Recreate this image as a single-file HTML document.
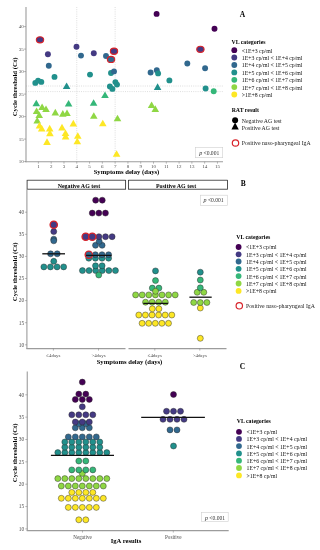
<!DOCTYPE html>
<html><head><meta charset="utf-8"><style>
html,body{margin:0;padding:0;background:#fff;}
svg{display:block;font-family:"Liberation Serif",serif;will-change:transform;}
</style></head><body>
<svg width="320" height="550" viewBox="0 0 320 550">
<rect width="320" height="550" fill="#fff"/>
<line x1="76.77" y1="7.0" x2="76.77" y2="161.7" stroke="#c8c8c8" stroke-width="0.6" stroke-dasharray="1,1.2"/>
<line x1="115.13999999999999" y1="7.0" x2="115.13999999999999" y2="161.7" stroke="#c8c8c8" stroke-width="0.6" stroke-dasharray="1,1.2"/>
<line x1="26.0" y1="86.0" x2="223.0" y2="86.0" stroke="#c8c8c8" stroke-width="0.6" stroke-dasharray="1,1.2"/>
<line x1="26.0" y1="91.6" x2="223.0" y2="91.6" stroke="#c8c8c8" stroke-width="0.6" stroke-dasharray="1,1.2"/>
<line x1="26.0" y1="7.0" x2="26.0" y2="162.2" stroke="#9c9c9c" stroke-width="1.1"/>
<line x1="25.5" y1="161.7" x2="223.0" y2="161.7" stroke="#9c9c9c" stroke-width="1.1"/>
<line x1="24.0" y1="161.6" x2="26.0" y2="161.6" stroke="#777" stroke-width="0.5"/>
<text x="23.8" y="163.35" font-size="5.0" text-anchor="end" fill="#4d4d4d">10</text>
<line x1="24.0" y1="139.1" x2="26.0" y2="139.1" stroke="#777" stroke-width="0.5"/>
<text x="23.8" y="140.85" font-size="5.0" text-anchor="end" fill="#4d4d4d">15</text>
<line x1="24.0" y1="116.6" x2="26.0" y2="116.6" stroke="#777" stroke-width="0.5"/>
<text x="23.8" y="118.35" font-size="5.0" text-anchor="end" fill="#4d4d4d">20</text>
<line x1="24.0" y1="94.1" x2="26.0" y2="94.1" stroke="#777" stroke-width="0.5"/>
<text x="23.8" y="95.85" font-size="5.0" text-anchor="end" fill="#4d4d4d">25</text>
<line x1="24.0" y1="71.6" x2="26.0" y2="71.6" stroke="#777" stroke-width="0.5"/>
<text x="23.8" y="73.35" font-size="5.0" text-anchor="end" fill="#4d4d4d">30</text>
<line x1="24.0" y1="49.099999999999994" x2="26.0" y2="49.099999999999994" stroke="#777" stroke-width="0.5"/>
<text x="23.8" y="50.849999999999994" font-size="5.0" text-anchor="end" fill="#4d4d4d">35</text>
<line x1="24.0" y1="26.599999999999994" x2="26.0" y2="26.599999999999994" stroke="#777" stroke-width="0.5"/>
<text x="23.8" y="28.349999999999994" font-size="5.0" text-anchor="end" fill="#4d4d4d">40</text>
<line x1="38.4" y1="161.7" x2="38.4" y2="163.7" stroke="#777" stroke-width="0.5"/>
<text x="38.4" y="167.6" font-size="5.0" text-anchor="middle" fill="#4d4d4d">1</text>
<line x1="51.19" y1="161.7" x2="51.19" y2="163.7" stroke="#777" stroke-width="0.5"/>
<text x="51.19" y="167.6" font-size="5.0" text-anchor="middle" fill="#4d4d4d">2</text>
<line x1="63.98" y1="161.7" x2="63.98" y2="163.7" stroke="#777" stroke-width="0.5"/>
<text x="63.98" y="167.6" font-size="5.0" text-anchor="middle" fill="#4d4d4d">3</text>
<line x1="76.77" y1="161.7" x2="76.77" y2="163.7" stroke="#777" stroke-width="0.5"/>
<text x="76.77" y="167.6" font-size="5.0" text-anchor="middle" fill="#4d4d4d">4</text>
<line x1="89.56" y1="161.7" x2="89.56" y2="163.7" stroke="#777" stroke-width="0.5"/>
<text x="89.56" y="167.6" font-size="5.0" text-anchor="middle" fill="#4d4d4d">5</text>
<line x1="102.35" y1="161.7" x2="102.35" y2="163.7" stroke="#777" stroke-width="0.5"/>
<text x="102.35" y="167.6" font-size="5.0" text-anchor="middle" fill="#4d4d4d">6</text>
<line x1="115.13999999999999" y1="161.7" x2="115.13999999999999" y2="163.7" stroke="#777" stroke-width="0.5"/>
<text x="115.13999999999999" y="167.6" font-size="5.0" text-anchor="middle" fill="#4d4d4d">7</text>
<line x1="127.93" y1="161.7" x2="127.93" y2="163.7" stroke="#777" stroke-width="0.5"/>
<text x="127.93" y="167.6" font-size="5.0" text-anchor="middle" fill="#4d4d4d">8</text>
<line x1="140.72" y1="161.7" x2="140.72" y2="163.7" stroke="#777" stroke-width="0.5"/>
<text x="140.72" y="167.6" font-size="5.0" text-anchor="middle" fill="#4d4d4d">9</text>
<line x1="153.51" y1="161.7" x2="153.51" y2="163.7" stroke="#777" stroke-width="0.5"/>
<text x="153.51" y="167.6" font-size="5.0" text-anchor="middle" fill="#4d4d4d">10</text>
<line x1="166.29999999999998" y1="161.7" x2="166.29999999999998" y2="163.7" stroke="#777" stroke-width="0.5"/>
<text x="166.29999999999998" y="167.6" font-size="5.0" text-anchor="middle" fill="#4d4d4d">11</text>
<line x1="179.09" y1="161.7" x2="179.09" y2="163.7" stroke="#777" stroke-width="0.5"/>
<text x="179.09" y="167.6" font-size="5.0" text-anchor="middle" fill="#4d4d4d">12</text>
<line x1="191.88" y1="161.7" x2="191.88" y2="163.7" stroke="#777" stroke-width="0.5"/>
<text x="191.88" y="167.6" font-size="5.0" text-anchor="middle" fill="#4d4d4d">13</text>
<line x1="204.67" y1="161.7" x2="204.67" y2="163.7" stroke="#777" stroke-width="0.5"/>
<text x="204.67" y="167.6" font-size="5.0" text-anchor="middle" fill="#4d4d4d">14</text>
<line x1="217.46" y1="161.7" x2="217.46" y2="163.7" stroke="#777" stroke-width="0.5"/>
<text x="217.46" y="167.6" font-size="5.0" text-anchor="middle" fill="#4d4d4d">15</text>
<polygon points="66.60,82.50 62.80,89.10 70.40,89.10" fill="#21908C"/>
<polygon points="157.60,83.30 153.80,89.90 161.40,89.90" fill="#21908C"/>
<polygon points="36.30,99.70 32.50,106.30 40.10,106.30" fill="#35B779"/>
<polygon points="68.60,100.00 64.80,106.60 72.40,106.60" fill="#35B779"/>
<polygon points="105.00,91.50 101.20,98.10 108.80,98.10" fill="#35B779"/>
<polygon points="93.60,99.20 89.80,105.80 97.40,105.80" fill="#35B779"/>
<polygon points="42.10,103.50 38.30,110.10 45.90,110.10" fill="#8FD744"/>
<polygon points="46.00,105.50 42.20,112.10 49.80,112.10" fill="#8FD744"/>
<polygon points="36.60,107.40 32.80,114.00 40.40,114.00" fill="#8FD744"/>
<polygon points="55.30,108.80 51.50,115.40 59.10,115.40" fill="#8FD744"/>
<polygon points="62.80,110.10 59.00,116.70 66.60,116.70" fill="#8FD744"/>
<polygon points="67.00,109.40 63.20,116.00 70.80,116.00" fill="#8FD744"/>
<polygon points="39.20,111.40 35.40,118.00 43.00,118.00" fill="#8FD744"/>
<polygon points="37.20,117.00 33.40,123.60 41.00,123.60" fill="#8FD744"/>
<polygon points="93.80,112.20 90.00,118.80 97.60,118.80" fill="#8FD744"/>
<polygon points="117.50,114.70 113.70,121.30 121.30,121.30" fill="#8FD744"/>
<polygon points="151.60,101.50 147.80,108.10 155.40,108.10" fill="#8FD744"/>
<polygon points="155.30,105.30 151.50,111.90 159.10,111.90" fill="#8FD744"/>
<polygon points="39.50,122.00 35.70,128.60 43.30,128.60" fill="#FDE725"/>
<polygon points="41.70,124.80 37.90,131.40 45.50,131.40" fill="#FDE725"/>
<polygon points="49.70,124.80 45.90,131.40 53.50,131.40" fill="#FDE725"/>
<polygon points="49.90,129.60 46.10,136.20 53.70,136.20" fill="#FDE725"/>
<polygon points="47.00,138.30 43.20,144.90 50.80,144.90" fill="#FDE725"/>
<polygon points="62.00,123.80 58.20,130.40 65.80,130.40" fill="#FDE725"/>
<polygon points="65.50,129.40 61.70,136.00 69.30,136.00" fill="#FDE725"/>
<polygon points="65.60,132.80 61.80,139.40 69.40,139.40" fill="#FDE725"/>
<polygon points="73.30,119.80 69.50,126.40 77.10,126.40" fill="#FDE725"/>
<polygon points="77.80,132.20 74.00,138.80 81.60,138.80" fill="#FDE725"/>
<polygon points="77.30,137.70 73.50,144.30 81.10,144.30" fill="#FDE725"/>
<polygon points="102.80,119.70 99.00,126.30 106.60,126.30" fill="#FDE725"/>
<polygon points="116.60,150.20 112.80,156.80 120.40,156.80" fill="#FDE725"/>
<circle cx="47.9" cy="54.3" r="2.95" fill="#443A83"/>
<circle cx="48.8" cy="65.8" r="2.95" fill="#31688E"/>
<circle cx="35.3" cy="82.9" r="2.95" fill="#21908C"/>
<circle cx="38.1" cy="80.6" r="2.95" fill="#21908C"/>
<circle cx="41.3" cy="81.9" r="2.95" fill="#21908C"/>
<circle cx="54.5" cy="76.9" r="2.95" fill="#21908C"/>
<circle cx="76.5" cy="46.7" r="2.95" fill="#443A83"/>
<circle cx="81.0" cy="55.6" r="2.95" fill="#31688E"/>
<circle cx="93.8" cy="53.2" r="2.95" fill="#443A83"/>
<circle cx="106.0" cy="56.0" r="2.95" fill="#31688E"/>
<circle cx="90.0" cy="74.6" r="2.95" fill="#21908C"/>
<circle cx="111.0" cy="73.0" r="2.95" fill="#21908C"/>
<circle cx="114.0" cy="71.4" r="2.95" fill="#31688E"/>
<circle cx="115.4" cy="82.1" r="2.95" fill="#21908C"/>
<circle cx="117.0" cy="84.6" r="2.95" fill="#21908C"/>
<circle cx="109.9" cy="86.4" r="2.95" fill="#21908C"/>
<circle cx="112.4" cy="88.9" r="2.95" fill="#21908C"/>
<circle cx="156.6" cy="13.9" r="2.95" fill="#440154"/>
<circle cx="214.5" cy="28.7" r="2.95" fill="#440154"/>
<circle cx="187.3" cy="63.5" r="2.95" fill="#31688E"/>
<circle cx="150.6" cy="72.5" r="2.95" fill="#31688E"/>
<circle cx="156.8" cy="70.3" r="2.95" fill="#31688E"/>
<circle cx="158.1" cy="73.4" r="2.95" fill="#21908C"/>
<circle cx="169.4" cy="80.4" r="2.95" fill="#21908C"/>
<circle cx="205.1" cy="68.2" r="2.95" fill="#31688E"/>
<circle cx="205.6" cy="88.5" r="2.95" fill="#21908C"/>
<circle cx="213.7" cy="91.3" r="2.95" fill="#35B779"/>
<ellipse cx="40.0" cy="39.8" rx="3.65" ry="3.1" fill="#443A83" stroke="#D8232A" stroke-width="1.15"/>
<ellipse cx="114.0" cy="51.2" rx="3.65" ry="3.1" fill="#443A83" stroke="#D8232A" stroke-width="1.15"/>
<ellipse cx="111.0" cy="59.4" rx="3.65" ry="3.1" fill="#31688E" stroke="#D8232A" stroke-width="1.15"/>
<ellipse cx="200.4" cy="49.3" rx="3.65" ry="3.1" fill="#443A83" stroke="#D8232A" stroke-width="1.15"/>
<rect x="195.6" y="147.5" width="27.1" height="10.2" fill="#fff" stroke="#cfcfcf" stroke-width="0.6"/>
<text x="209.2" y="155.0" font-size="5.6" text-anchor="middle" fill="#333"><tspan font-style="italic" font-size="6.0">p</tspan> &lt;0.001</text>
<text x="126.5" y="173.9" font-size="6.65" text-anchor="middle" fill="#000" font-weight="bold">Symptoms delay (days)</text>
<text x="0" y="0" font-size="6.8" font-weight="bold" text-anchor="middle" transform="translate(16.9,86.9) rotate(-90)">Cycle threshold (Ct)</text>
<text x="242.4" y="17.0" font-size="7.5" text-anchor="middle" fill="#000" font-weight="bold">A</text>
<text x="231.6" y="43.8" font-size="5.8" text-anchor="start" fill="#000" font-weight="bold">VL categories</text>
<circle cx="234.3" cy="50.2" r="2.9" fill="#440154"/>
<text x="241.8" y="52.6" font-size="5.8" text-anchor="start" fill="#111">&lt;1E+3 cp/ml</text>
<circle cx="234.3" cy="57.5" r="2.9" fill="#443A83"/>
<text x="241.8" y="59.9" font-size="5.8" text-anchor="start" fill="#111">1E+3 cp/ml &lt; 1E+4 cp/ml</text>
<circle cx="234.3" cy="65.0" r="2.9" fill="#31688E"/>
<text x="241.8" y="67.4" font-size="5.8" text-anchor="start" fill="#111">1E+4 cp/ml &lt; 1E+5 cp/ml</text>
<circle cx="234.3" cy="72.4" r="2.9" fill="#21908C"/>
<text x="241.8" y="74.80000000000001" font-size="5.8" text-anchor="start" fill="#111">1E+5 cp/ml &lt; 1E+6 cp/ml</text>
<circle cx="234.3" cy="79.8" r="2.9" fill="#35B779"/>
<text x="241.8" y="82.2" font-size="5.8" text-anchor="start" fill="#111">1E+6 cp/ml &lt; 1E+7 cp/ml</text>
<circle cx="234.3" cy="87.1" r="2.9" fill="#8FD744"/>
<text x="241.8" y="89.5" font-size="5.8" text-anchor="start" fill="#111">1E+7 cp/ml &lt; 1E+8 cp/ml</text>
<circle cx="234.3" cy="94.5" r="2.9" fill="#FDE725"/>
<text x="241.8" y="96.9" font-size="5.8" text-anchor="start" fill="#111">&gt;1E+8 cp/ml</text>
<text x="231.7" y="112.0" font-size="5.8" text-anchor="start" fill="#000" font-weight="bold">RAT result</text>
<circle cx="235.1" cy="120.2" r="3.0" fill="#000"/>
<polygon points="235.1,122.6 231.4,129.4 238.8,129.4" fill="#000"/>
<text x="241.8" y="122.6" font-size="5.8" text-anchor="start" fill="#222">Negative AG test</text>
<text x="241.8" y="129.9" font-size="5.8" text-anchor="start" fill="#222">Positive AG test</text>
<circle cx="235.5" cy="143.0" r="3.2" fill="none" stroke="#D8232A" stroke-width="1.2"/>
<text x="241.8" y="144.9" font-size="5.8" text-anchor="start" fill="#222">Positive naso-pharyngeal IgA</text>
<rect x="27.1" y="180.3" width="98.5" height="8.9" fill="#fff" stroke="#333" stroke-width="0.85"/>
<line x1="27.6" y1="180.3" x2="125.1" y2="180.3" stroke="#8a8a8a" stroke-width="0.85"/>
<text x="78.9" y="188.0" font-size="5.95" text-anchor="middle" fill="#000" font-weight="bold">Negative AG test</text>
<rect x="128.5" y="180.3" width="99.0" height="8.9" fill="#fff" stroke="#333" stroke-width="0.85"/>
<line x1="129.0" y1="180.3" x2="227.0" y2="180.3" stroke="#8a8a8a" stroke-width="0.85"/>
<text x="176.0" y="188.0" font-size="5.95" text-anchor="middle" fill="#000" font-weight="bold">Positive AG test</text>
<line x1="26.9" y1="189.4" x2="26.9" y2="349.1" stroke="#9c9c9c" stroke-width="1.1"/>
<line x1="26.4" y1="348.6" x2="125.5" y2="348.6" stroke="#9c9c9c" stroke-width="1.1"/>
<line x1="128.5" y1="348.6" x2="226.5" y2="348.6" stroke="#9c9c9c" stroke-width="1.1"/>
<line x1="24.9" y1="344.8" x2="26.9" y2="344.8" stroke="#777" stroke-width="0.5"/>
<text x="24.1" y="346.65000000000003" font-size="5.4" text-anchor="end" fill="#4d4d4d">10</text>
<line x1="24.9" y1="322.7" x2="26.9" y2="322.7" stroke="#777" stroke-width="0.5"/>
<text x="24.1" y="324.55" font-size="5.4" text-anchor="end" fill="#4d4d4d">15</text>
<line x1="24.9" y1="300.6" x2="26.9" y2="300.6" stroke="#777" stroke-width="0.5"/>
<text x="24.1" y="302.45000000000005" font-size="5.4" text-anchor="end" fill="#4d4d4d">20</text>
<line x1="24.9" y1="278.5" x2="26.9" y2="278.5" stroke="#777" stroke-width="0.5"/>
<text x="24.1" y="280.35" font-size="5.4" text-anchor="end" fill="#4d4d4d">25</text>
<line x1="24.9" y1="256.4" x2="26.9" y2="256.4" stroke="#777" stroke-width="0.5"/>
<text x="24.1" y="258.25" font-size="5.4" text-anchor="end" fill="#4d4d4d">30</text>
<line x1="24.9" y1="234.3" x2="26.9" y2="234.3" stroke="#777" stroke-width="0.5"/>
<text x="24.1" y="236.15" font-size="5.4" text-anchor="end" fill="#4d4d4d">35</text>
<line x1="24.9" y1="212.20000000000002" x2="26.9" y2="212.20000000000002" stroke="#777" stroke-width="0.5"/>
<text x="24.1" y="214.05" font-size="5.4" text-anchor="end" fill="#4d4d4d">40</text>
<line x1="53.4" y1="348.6" x2="53.4" y2="350.6" stroke="#777" stroke-width="0.5"/>
<text x="53.4" y="356.6" font-size="4.9" text-anchor="middle" fill="#4d4d4d">≤4days</text>
<line x1="98.5" y1="348.6" x2="98.5" y2="350.6" stroke="#777" stroke-width="0.5"/>
<text x="98.5" y="356.6" font-size="4.9" text-anchor="middle" fill="#4d4d4d">&gt;4days</text>
<line x1="154.8" y1="348.6" x2="154.8" y2="350.6" stroke="#777" stroke-width="0.5"/>
<text x="154.8" y="356.6" font-size="4.9" text-anchor="middle" fill="#4d4d4d">≤4days</text>
<line x1="199.8" y1="348.6" x2="199.8" y2="350.6" stroke="#777" stroke-width="0.5"/>
<text x="199.8" y="356.6" font-size="4.9" text-anchor="middle" fill="#4d4d4d">&gt;4days</text>
<text x="129.5" y="364.3" font-size="6.65" text-anchor="middle" fill="#000" font-weight="bold">Symptoms delay (days)</text>
<text x="0" y="0" font-size="6.8" font-weight="bold" text-anchor="middle" transform="translate(16.9,271.8) rotate(-90)">Cycle threshold (Ct)</text>
<text x="243.2" y="185.9" font-size="7.5" text-anchor="middle" fill="#000" font-weight="bold">B</text>
<rect x="200.3" y="195.2" width="27.3" height="10.2" fill="#fff" stroke="#cfcfcf" stroke-width="0.6"/>
<text x="213.6" y="202.4" font-size="5.6" text-anchor="middle" fill="#333"><tspan font-style="italic" font-size="6.0">p</tspan> &lt;0.001</text>
<circle cx="53.75" cy="231.6" r="3.0" fill="#443A83" stroke="#2b2b2b" stroke-width="0.45"/>
<circle cx="53.75" cy="239.2" r="3.0" fill="#31688E" stroke="#2b2b2b" stroke-width="0.45"/>
<circle cx="53.75" cy="240.8" r="3.0" fill="#31688E" stroke="#2b2b2b" stroke-width="0.45"/>
<circle cx="43.85" cy="266.9" r="3.0" fill="#21908C" stroke="#2b2b2b" stroke-width="0.45"/>
<circle cx="50.45" cy="266.9" r="3.0" fill="#21908C" stroke="#2b2b2b" stroke-width="0.45"/>
<circle cx="57.05" cy="266.9" r="3.0" fill="#21908C" stroke="#2b2b2b" stroke-width="0.45"/>
<circle cx="63.65" cy="266.9" r="3.0" fill="#21908C" stroke="#2b2b2b" stroke-width="0.45"/>
<circle cx="53.75" cy="261.3" r="3.0" fill="#21908C" stroke="#2b2b2b" stroke-width="0.45"/>
<circle cx="50.6" cy="253.8" r="3.0" fill="#31688E" stroke="#2b2b2b" stroke-width="0.45"/>
<circle cx="57.199999999999996" cy="253.8" r="3.0" fill="#31688E" stroke="#2b2b2b" stroke-width="0.45"/>
<circle cx="53.75" cy="224.75" r="3.65" fill="#443A83" stroke="#D8232A" stroke-width="1.35"/>
<line x1="42.3" y1="253.8" x2="65.0" y2="253.8" stroke="#111" stroke-width="1.3"/>
<circle cx="95.65" cy="200.2" r="3.0" fill="#440154" stroke="#2b2b2b" stroke-width="0.45"/>
<circle cx="102.25" cy="200.2" r="3.0" fill="#440154" stroke="#2b2b2b" stroke-width="0.45"/>
<circle cx="92.25" cy="213.1" r="3.0" fill="#440154" stroke="#2b2b2b" stroke-width="0.45"/>
<circle cx="98.85" cy="213.1" r="3.0" fill="#440154" stroke="#2b2b2b" stroke-width="0.45"/>
<circle cx="105.44999999999999" cy="213.1" r="3.0" fill="#440154" stroke="#2b2b2b" stroke-width="0.45"/>
<circle cx="82.45" cy="270.6" r="3.0" fill="#21908C" stroke="#2b2b2b" stroke-width="0.45"/>
<circle cx="89.05000000000001" cy="270.6" r="3.0" fill="#21908C" stroke="#2b2b2b" stroke-width="0.45"/>
<circle cx="95.65" cy="270.6" r="3.0" fill="#21908C" stroke="#2b2b2b" stroke-width="0.45"/>
<circle cx="102.25" cy="270.6" r="3.0" fill="#21908C" stroke="#2b2b2b" stroke-width="0.45"/>
<circle cx="108.85" cy="270.6" r="3.0" fill="#21908C" stroke="#2b2b2b" stroke-width="0.45"/>
<circle cx="115.45" cy="270.6" r="3.0" fill="#21908C" stroke="#2b2b2b" stroke-width="0.45"/>
<circle cx="98.75" cy="275.0" r="3.0" fill="#35B779" stroke="#2b2b2b" stroke-width="0.45"/>
<circle cx="95.5" cy="265.8" r="3.0" fill="#21908C" stroke="#2b2b2b" stroke-width="0.45"/>
<circle cx="102.1" cy="265.8" r="3.0" fill="#21908C" stroke="#2b2b2b" stroke-width="0.45"/>
<circle cx="88.80000000000001" cy="258.2" r="3.0" fill="#21908C" stroke="#2b2b2b" stroke-width="0.45"/>
<circle cx="95.4" cy="258.2" r="3.0" fill="#21908C" stroke="#2b2b2b" stroke-width="0.45"/>
<circle cx="102.0" cy="258.2" r="3.0" fill="#21908C" stroke="#2b2b2b" stroke-width="0.45"/>
<circle cx="108.6" cy="258.2" r="3.0" fill="#21908C" stroke="#2b2b2b" stroke-width="0.45"/>
<circle cx="95.4" cy="254.7" r="3.0" fill="#31688E" stroke="#2b2b2b" stroke-width="0.45"/>
<circle cx="102.0" cy="254.7" r="3.0" fill="#31688E" stroke="#2b2b2b" stroke-width="0.45"/>
<circle cx="108.6" cy="254.7" r="3.0" fill="#31688E" stroke="#2b2b2b" stroke-width="0.45"/>
<circle cx="95.5" cy="245.3" r="3.0" fill="#31688E" stroke="#2b2b2b" stroke-width="0.45"/>
<circle cx="102.1" cy="245.3" r="3.0" fill="#31688E" stroke="#2b2b2b" stroke-width="0.45"/>
<circle cx="99.2" cy="241.4" r="3.0" fill="#31688E" stroke="#2b2b2b" stroke-width="0.45"/>
<circle cx="98.9" cy="236.7" r="3.0" fill="#443A83" stroke="#2b2b2b" stroke-width="0.45"/>
<circle cx="105.5" cy="236.7" r="3.0" fill="#443A83" stroke="#2b2b2b" stroke-width="0.45"/>
<circle cx="112.10000000000001" cy="236.7" r="3.0" fill="#443A83" stroke="#2b2b2b" stroke-width="0.45"/>
<circle cx="85.7" cy="236.7" r="3.65" fill="#443A83" stroke="#D8232A" stroke-width="1.35"/>
<circle cx="92.30000000000001" cy="236.7" r="3.65" fill="#443A83" stroke="#D8232A" stroke-width="1.35"/>
<circle cx="88.80000000000001" cy="254.7" r="3.65" fill="#31688E" stroke="#D8232A" stroke-width="1.35"/>
<line x1="86.0" y1="255.4" x2="111.5" y2="255.4" stroke="#111" stroke-width="1.3"/>
<circle cx="142.10000000000002" cy="323.3" r="3.0" fill="#FDE725" stroke="#2b2b2b" stroke-width="0.45"/>
<circle cx="148.70000000000002" cy="323.3" r="3.0" fill="#FDE725" stroke="#2b2b2b" stroke-width="0.45"/>
<circle cx="155.3" cy="323.3" r="3.0" fill="#FDE725" stroke="#2b2b2b" stroke-width="0.45"/>
<circle cx="161.9" cy="323.3" r="3.0" fill="#FDE725" stroke="#2b2b2b" stroke-width="0.45"/>
<circle cx="168.5" cy="323.3" r="3.0" fill="#FDE725" stroke="#2b2b2b" stroke-width="0.45"/>
<circle cx="138.8" cy="315.0" r="3.0" fill="#FDE725" stroke="#2b2b2b" stroke-width="0.45"/>
<circle cx="145.4" cy="315.0" r="3.0" fill="#FDE725" stroke="#2b2b2b" stroke-width="0.45"/>
<circle cx="152.0" cy="315.0" r="3.0" fill="#FDE725" stroke="#2b2b2b" stroke-width="0.45"/>
<circle cx="158.60000000000002" cy="315.0" r="3.0" fill="#FDE725" stroke="#2b2b2b" stroke-width="0.45"/>
<circle cx="165.20000000000002" cy="315.0" r="3.0" fill="#FDE725" stroke="#2b2b2b" stroke-width="0.45"/>
<circle cx="171.8" cy="315.0" r="3.0" fill="#FDE725" stroke="#2b2b2b" stroke-width="0.45"/>
<circle cx="152.29999999999998" cy="308.8" r="3.0" fill="#FDE725" stroke="#2b2b2b" stroke-width="0.45"/>
<circle cx="158.9" cy="308.8" r="3.0" fill="#FDE725" stroke="#2b2b2b" stroke-width="0.45"/>
<circle cx="145.5" cy="302.2" r="3.0" fill="#8FD744" stroke="#2b2b2b" stroke-width="0.45"/>
<circle cx="152.1" cy="302.2" r="3.0" fill="#8FD744" stroke="#2b2b2b" stroke-width="0.45"/>
<circle cx="158.70000000000002" cy="302.2" r="3.0" fill="#8FD744" stroke="#2b2b2b" stroke-width="0.45"/>
<circle cx="165.3" cy="302.2" r="3.0" fill="#8FD744" stroke="#2b2b2b" stroke-width="0.45"/>
<line x1="143.3" y1="303.4" x2="168.2" y2="303.4" stroke="#111" stroke-width="1.3"/>
<circle cx="135.60000000000002" cy="294.9" r="3.0" fill="#8FD744" stroke="#2b2b2b" stroke-width="0.45"/>
<circle cx="142.20000000000002" cy="294.9" r="3.0" fill="#8FD744" stroke="#2b2b2b" stroke-width="0.45"/>
<circle cx="148.8" cy="294.9" r="3.0" fill="#8FD744" stroke="#2b2b2b" stroke-width="0.45"/>
<circle cx="155.4" cy="294.9" r="3.0" fill="#8FD744" stroke="#2b2b2b" stroke-width="0.45"/>
<circle cx="162.0" cy="294.9" r="3.0" fill="#8FD744" stroke="#2b2b2b" stroke-width="0.45"/>
<circle cx="168.6" cy="294.9" r="3.0" fill="#8FD744" stroke="#2b2b2b" stroke-width="0.45"/>
<circle cx="175.2" cy="294.9" r="3.0" fill="#8FD744" stroke="#2b2b2b" stroke-width="0.45"/>
<circle cx="152.29999999999998" cy="288.1" r="3.0" fill="#35B779" stroke="#2b2b2b" stroke-width="0.45"/>
<circle cx="158.9" cy="288.1" r="3.0" fill="#35B779" stroke="#2b2b2b" stroke-width="0.45"/>
<circle cx="155.5" cy="291.3" r="3.0" fill="#8FD744" stroke="#2b2b2b" stroke-width="0.45"/>
<circle cx="155.5" cy="280.6" r="3.0" fill="#35B779" stroke="#2b2b2b" stroke-width="0.45"/>
<circle cx="155.5" cy="270.9" r="3.0" fill="#21908C" stroke="#2b2b2b" stroke-width="0.45"/>
<circle cx="200.3" cy="338.3" r="3.0" fill="#FDE725" stroke="#2b2b2b" stroke-width="0.45"/>
<circle cx="200.3" cy="308.0" r="3.0" fill="#FDE725" stroke="#2b2b2b" stroke-width="0.45"/>
<circle cx="193.70000000000002" cy="302.5" r="3.0" fill="#8FD744" stroke="#2b2b2b" stroke-width="0.45"/>
<circle cx="200.3" cy="302.5" r="3.0" fill="#8FD744" stroke="#2b2b2b" stroke-width="0.45"/>
<circle cx="206.9" cy="302.5" r="3.0" fill="#8FD744" stroke="#2b2b2b" stroke-width="0.45"/>
<line x1="189.4" y1="297.2" x2="211.7" y2="297.2" stroke="#111" stroke-width="1.3"/>
<circle cx="197.2" cy="292.3" r="3.0" fill="#8FD744" stroke="#2b2b2b" stroke-width="0.45"/>
<circle cx="203.8" cy="292.3" r="3.0" fill="#8FD744" stroke="#2b2b2b" stroke-width="0.45"/>
<circle cx="200.3" cy="287.8" r="3.0" fill="#35B779" stroke="#2b2b2b" stroke-width="0.45"/>
<circle cx="200.3" cy="280.0" r="3.0" fill="#35B779" stroke="#2b2b2b" stroke-width="0.45"/>
<circle cx="200.3" cy="272.2" r="3.0" fill="#21908C" stroke="#2b2b2b" stroke-width="0.45"/>
<text x="236.3" y="238.8" font-size="5.8" text-anchor="start" fill="#000" font-weight="bold">VL categories</text>
<circle cx="238.6" cy="247.0" r="2.9" fill="#440154"/>
<text x="246.0" y="249.4" font-size="5.8" text-anchor="start" fill="#111">&lt;1E+3 cp/ml</text>
<circle cx="238.6" cy="254.3" r="2.9" fill="#443A83"/>
<text x="246.0" y="256.7" font-size="5.8" text-anchor="start" fill="#111">1E+3 cp/ml &lt; 1E+4 cp/ml</text>
<circle cx="238.6" cy="261.5" r="2.9" fill="#31688E"/>
<text x="246.0" y="263.9" font-size="5.8" text-anchor="start" fill="#111">1E+4 cp/ml &lt; 1E+5 cp/ml</text>
<circle cx="238.6" cy="268.8" r="2.9" fill="#21908C"/>
<text x="246.0" y="271.2" font-size="5.8" text-anchor="start" fill="#111">1E+5 cp/ml &lt; 1E+6 cp/ml</text>
<circle cx="238.6" cy="276.1" r="2.9" fill="#35B779"/>
<text x="246.0" y="278.5" font-size="5.8" text-anchor="start" fill="#111">1E+6 cp/ml &lt; 1E+7 cp/ml</text>
<circle cx="238.6" cy="283.5" r="2.9" fill="#8FD744"/>
<text x="246.0" y="285.9" font-size="5.8" text-anchor="start" fill="#111">1E+7 cp/ml &lt; 1E+8 cp/ml</text>
<circle cx="238.6" cy="290.9" r="2.9" fill="#FDE725"/>
<text x="246.0" y="293.29999999999995" font-size="5.8" text-anchor="start" fill="#111">&gt;1E+8 cp/ml</text>
<circle cx="239.3" cy="305.8" r="3.2" fill="none" stroke="#D8232A" stroke-width="1.2"/>
<text x="246.0" y="307.7" font-size="5.8" text-anchor="start" fill="#222">Positive naso-pharyngeal IgA</text>
<line x1="27.25" y1="371.5" x2="27.25" y2="531.1" stroke="#9c9c9c" stroke-width="1.1"/>
<line x1="26.7" y1="530.6" x2="228.7" y2="530.6" stroke="#9c9c9c" stroke-width="1.1"/>
<line x1="25.25" y1="528.9" x2="27.25" y2="528.9" stroke="#777" stroke-width="0.5"/>
<text x="24.2" y="530.75" font-size="5.4" text-anchor="end" fill="#4d4d4d">10</text>
<line x1="25.25" y1="506.54999999999995" x2="27.25" y2="506.54999999999995" stroke="#777" stroke-width="0.5"/>
<text x="24.2" y="508.4" font-size="5.4" text-anchor="end" fill="#4d4d4d">15</text>
<line x1="25.25" y1="484.2" x2="27.25" y2="484.2" stroke="#777" stroke-width="0.5"/>
<text x="24.2" y="486.05" font-size="5.4" text-anchor="end" fill="#4d4d4d">20</text>
<line x1="25.25" y1="461.84999999999997" x2="27.25" y2="461.84999999999997" stroke="#777" stroke-width="0.5"/>
<text x="24.2" y="463.7" font-size="5.4" text-anchor="end" fill="#4d4d4d">25</text>
<line x1="25.25" y1="439.5" x2="27.25" y2="439.5" stroke="#777" stroke-width="0.5"/>
<text x="24.2" y="441.35" font-size="5.4" text-anchor="end" fill="#4d4d4d">30</text>
<line x1="25.25" y1="417.15" x2="27.25" y2="417.15" stroke="#777" stroke-width="0.5"/>
<text x="24.2" y="419.0" font-size="5.4" text-anchor="end" fill="#4d4d4d">35</text>
<line x1="25.25" y1="394.79999999999995" x2="27.25" y2="394.79999999999995" stroke="#777" stroke-width="0.5"/>
<text x="24.2" y="396.65" font-size="5.4" text-anchor="end" fill="#4d4d4d">40</text>
<line x1="82.5" y1="530.6" x2="82.5" y2="532.6" stroke="#777" stroke-width="0.5"/>
<text x="82.5" y="538.9" font-size="5.15" text-anchor="middle" fill="#4d4d4d">Negative</text>
<line x1="173.3" y1="530.6" x2="173.3" y2="532.6" stroke="#777" stroke-width="0.5"/>
<text x="173.3" y="538.9" font-size="5.15" text-anchor="middle" fill="#4d4d4d">Positive</text>
<text x="126.0" y="543.2" font-size="6.65" text-anchor="middle" fill="#000" font-weight="bold">IgA results</text>
<text x="0" y="0" font-size="6.8" font-weight="bold" text-anchor="middle" transform="translate(16.9,452.8) rotate(-90)">Cycle threshold (Ct)</text>
<text x="242.4" y="369.2" font-size="7.5" text-anchor="middle" fill="#000" font-weight="bold">C</text>
<rect x="201.4" y="512.6" width="26.8" height="9.1" fill="#fff" stroke="#cfcfcf" stroke-width="0.6"/>
<text x="215.0" y="519.6" font-size="5.6" text-anchor="middle" fill="#333"><tspan font-style="italic" font-size="6.0">p</tspan> &lt;0.001</text>
<circle cx="78.8" cy="519.8" r="3.0" fill="#FDE725" stroke="#2b2b2b" stroke-width="0.45"/>
<circle cx="85.8" cy="519.8" r="3.0" fill="#FDE725" stroke="#2b2b2b" stroke-width="0.45"/>
<circle cx="68.3" cy="507.4" r="3.0" fill="#FDE725" stroke="#2b2b2b" stroke-width="0.45"/>
<circle cx="75.3" cy="507.4" r="3.0" fill="#FDE725" stroke="#2b2b2b" stroke-width="0.45"/>
<circle cx="82.3" cy="507.4" r="3.0" fill="#FDE725" stroke="#2b2b2b" stroke-width="0.45"/>
<circle cx="89.3" cy="507.4" r="3.0" fill="#FDE725" stroke="#2b2b2b" stroke-width="0.45"/>
<circle cx="96.3" cy="507.4" r="3.0" fill="#FDE725" stroke="#2b2b2b" stroke-width="0.45"/>
<circle cx="61.3" cy="498.3" r="3.0" fill="#FDE725" stroke="#2b2b2b" stroke-width="0.45"/>
<circle cx="68.3" cy="498.3" r="3.0" fill="#FDE725" stroke="#2b2b2b" stroke-width="0.45"/>
<circle cx="75.3" cy="498.3" r="3.0" fill="#FDE725" stroke="#2b2b2b" stroke-width="0.45"/>
<circle cx="82.3" cy="498.3" r="3.0" fill="#FDE725" stroke="#2b2b2b" stroke-width="0.45"/>
<circle cx="89.3" cy="498.3" r="3.0" fill="#FDE725" stroke="#2b2b2b" stroke-width="0.45"/>
<circle cx="96.3" cy="498.3" r="3.0" fill="#FDE725" stroke="#2b2b2b" stroke-width="0.45"/>
<circle cx="103.3" cy="498.3" r="3.0" fill="#FDE725" stroke="#2b2b2b" stroke-width="0.45"/>
<circle cx="71.8" cy="492.4" r="3.0" fill="#FDE725" stroke="#2b2b2b" stroke-width="0.45"/>
<circle cx="78.8" cy="492.4" r="3.0" fill="#FDE725" stroke="#2b2b2b" stroke-width="0.45"/>
<circle cx="85.8" cy="492.4" r="3.0" fill="#FDE725" stroke="#2b2b2b" stroke-width="0.45"/>
<circle cx="92.8" cy="492.4" r="3.0" fill="#FDE725" stroke="#2b2b2b" stroke-width="0.45"/>
<circle cx="61.3" cy="486.0" r="3.0" fill="#8FD744" stroke="#2b2b2b" stroke-width="0.45"/>
<circle cx="68.3" cy="486.0" r="3.0" fill="#8FD744" stroke="#2b2b2b" stroke-width="0.45"/>
<circle cx="75.3" cy="486.0" r="3.0" fill="#8FD744" stroke="#2b2b2b" stroke-width="0.45"/>
<circle cx="82.3" cy="486.0" r="3.0" fill="#8FD744" stroke="#2b2b2b" stroke-width="0.45"/>
<circle cx="89.3" cy="486.0" r="3.0" fill="#8FD744" stroke="#2b2b2b" stroke-width="0.45"/>
<circle cx="96.3" cy="486.0" r="3.0" fill="#8FD744" stroke="#2b2b2b" stroke-width="0.45"/>
<circle cx="103.3" cy="486.0" r="3.0" fill="#8FD744" stroke="#2b2b2b" stroke-width="0.45"/>
<circle cx="57.8" cy="478.6" r="3.0" fill="#8FD744" stroke="#2b2b2b" stroke-width="0.45"/>
<circle cx="64.8" cy="478.6" r="3.0" fill="#8FD744" stroke="#2b2b2b" stroke-width="0.45"/>
<circle cx="71.8" cy="478.6" r="3.0" fill="#8FD744" stroke="#2b2b2b" stroke-width="0.45"/>
<circle cx="78.8" cy="478.6" r="3.0" fill="#8FD744" stroke="#2b2b2b" stroke-width="0.45"/>
<circle cx="85.8" cy="478.6" r="3.0" fill="#8FD744" stroke="#2b2b2b" stroke-width="0.45"/>
<circle cx="92.8" cy="478.6" r="3.0" fill="#8FD744" stroke="#2b2b2b" stroke-width="0.45"/>
<circle cx="99.8" cy="478.6" r="3.0" fill="#8FD744" stroke="#2b2b2b" stroke-width="0.45"/>
<circle cx="106.8" cy="478.6" r="3.0" fill="#8FD744" stroke="#2b2b2b" stroke-width="0.45"/>
<circle cx="82.3" cy="473.4" r="3.0" fill="#8FD744" stroke="#2b2b2b" stroke-width="0.45"/>
<circle cx="71.8" cy="469.9" r="3.0" fill="#35B779" stroke="#2b2b2b" stroke-width="0.45"/>
<circle cx="78.8" cy="469.9" r="3.0" fill="#35B779" stroke="#2b2b2b" stroke-width="0.45"/>
<circle cx="85.8" cy="469.9" r="3.0" fill="#35B779" stroke="#2b2b2b" stroke-width="0.45"/>
<circle cx="92.8" cy="469.9" r="3.0" fill="#35B779" stroke="#2b2b2b" stroke-width="0.45"/>
<circle cx="78.8" cy="461.0" r="3.0" fill="#35B779" stroke="#2b2b2b" stroke-width="0.45"/>
<circle cx="85.8" cy="461.0" r="3.0" fill="#35B779" stroke="#2b2b2b" stroke-width="0.45"/>
<circle cx="57.8" cy="452.6" r="3.0" fill="#21908C" stroke="#2b2b2b" stroke-width="0.45"/>
<circle cx="64.8" cy="452.6" r="3.0" fill="#21908C" stroke="#2b2b2b" stroke-width="0.45"/>
<circle cx="71.8" cy="452.6" r="3.0" fill="#21908C" stroke="#2b2b2b" stroke-width="0.45"/>
<circle cx="78.8" cy="452.6" r="3.0" fill="#21908C" stroke="#2b2b2b" stroke-width="0.45"/>
<circle cx="85.8" cy="452.6" r="3.0" fill="#21908C" stroke="#2b2b2b" stroke-width="0.45"/>
<circle cx="92.8" cy="452.6" r="3.0" fill="#21908C" stroke="#2b2b2b" stroke-width="0.45"/>
<circle cx="99.8" cy="452.6" r="3.0" fill="#21908C" stroke="#2b2b2b" stroke-width="0.45"/>
<circle cx="106.8" cy="452.6" r="3.0" fill="#21908C" stroke="#2b2b2b" stroke-width="0.45"/>
<circle cx="64.8" cy="447.2" r="3.0" fill="#21908C" stroke="#2b2b2b" stroke-width="0.45"/>
<circle cx="71.8" cy="447.2" r="3.0" fill="#21908C" stroke="#2b2b2b" stroke-width="0.45"/>
<circle cx="78.8" cy="447.2" r="3.0" fill="#21908C" stroke="#2b2b2b" stroke-width="0.45"/>
<circle cx="85.8" cy="447.2" r="3.0" fill="#21908C" stroke="#2b2b2b" stroke-width="0.45"/>
<circle cx="92.8" cy="447.2" r="3.0" fill="#21908C" stroke="#2b2b2b" stroke-width="0.45"/>
<circle cx="99.8" cy="447.2" r="3.0" fill="#21908C" stroke="#2b2b2b" stroke-width="0.45"/>
<circle cx="64.8" cy="442.0" r="3.0" fill="#21908C" stroke="#2b2b2b" stroke-width="0.45"/>
<circle cx="71.8" cy="442.0" r="3.0" fill="#21908C" stroke="#2b2b2b" stroke-width="0.45"/>
<circle cx="78.8" cy="442.0" r="3.0" fill="#21908C" stroke="#2b2b2b" stroke-width="0.45"/>
<circle cx="85.8" cy="442.0" r="3.0" fill="#21908C" stroke="#2b2b2b" stroke-width="0.45"/>
<circle cx="92.8" cy="442.0" r="3.0" fill="#21908C" stroke="#2b2b2b" stroke-width="0.45"/>
<circle cx="99.8" cy="442.0" r="3.0" fill="#21908C" stroke="#2b2b2b" stroke-width="0.45"/>
<circle cx="68.3" cy="436.9" r="3.0" fill="#31688E" stroke="#2b2b2b" stroke-width="0.45"/>
<circle cx="75.3" cy="436.9" r="3.0" fill="#31688E" stroke="#2b2b2b" stroke-width="0.45"/>
<circle cx="82.3" cy="436.9" r="3.0" fill="#31688E" stroke="#2b2b2b" stroke-width="0.45"/>
<circle cx="89.3" cy="436.9" r="3.0" fill="#31688E" stroke="#2b2b2b" stroke-width="0.45"/>
<circle cx="96.3" cy="436.9" r="3.0" fill="#31688E" stroke="#2b2b2b" stroke-width="0.45"/>
<circle cx="75.3" cy="427.8" r="3.0" fill="#31688E" stroke="#2b2b2b" stroke-width="0.45"/>
<circle cx="82.3" cy="427.8" r="3.0" fill="#31688E" stroke="#2b2b2b" stroke-width="0.45"/>
<circle cx="89.3" cy="427.8" r="3.0" fill="#31688E" stroke="#2b2b2b" stroke-width="0.45"/>
<circle cx="78.8" cy="423.7" r="3.0" fill="#31688E" stroke="#2b2b2b" stroke-width="0.45"/>
<circle cx="85.8" cy="423.7" r="3.0" fill="#31688E" stroke="#2b2b2b" stroke-width="0.45"/>
<circle cx="75.3" cy="422.0" r="3.0" fill="#443A83" stroke="#2b2b2b" stroke-width="0.45"/>
<circle cx="82.3" cy="422.0" r="3.0" fill="#443A83" stroke="#2b2b2b" stroke-width="0.45"/>
<circle cx="89.3" cy="422.0" r="3.0" fill="#443A83" stroke="#2b2b2b" stroke-width="0.45"/>
<circle cx="71.8" cy="414.8" r="3.0" fill="#443A83" stroke="#2b2b2b" stroke-width="0.45"/>
<circle cx="78.8" cy="414.8" r="3.0" fill="#443A83" stroke="#2b2b2b" stroke-width="0.45"/>
<circle cx="85.8" cy="414.8" r="3.0" fill="#443A83" stroke="#2b2b2b" stroke-width="0.45"/>
<circle cx="92.8" cy="414.8" r="3.0" fill="#443A83" stroke="#2b2b2b" stroke-width="0.45"/>
<circle cx="82.3" cy="406.8" r="3.0" fill="#443A83" stroke="#2b2b2b" stroke-width="0.45"/>
<circle cx="75.3" cy="399.4" r="3.0" fill="#440154" stroke="#2b2b2b" stroke-width="0.45"/>
<circle cx="82.3" cy="399.4" r="3.0" fill="#440154" stroke="#2b2b2b" stroke-width="0.45"/>
<circle cx="89.3" cy="399.4" r="3.0" fill="#440154" stroke="#2b2b2b" stroke-width="0.45"/>
<circle cx="78.8" cy="394.1" r="3.0" fill="#440154" stroke="#2b2b2b" stroke-width="0.45"/>
<circle cx="85.8" cy="394.1" r="3.0" fill="#440154" stroke="#2b2b2b" stroke-width="0.45"/>
<circle cx="82.3" cy="382.1" r="3.0" fill="#440154" stroke="#2b2b2b" stroke-width="0.45"/>
<line x1="50.9" y1="455.4" x2="114.0" y2="455.4" stroke="#111" stroke-width="1.3"/>
<circle cx="173.5" cy="446.0" r="3.0" fill="#21908C" stroke="#2b2b2b" stroke-width="0.45"/>
<circle cx="170.0" cy="429.9" r="3.0" fill="#31688E" stroke="#2b2b2b" stroke-width="0.45"/>
<circle cx="177.0" cy="429.9" r="3.0" fill="#31688E" stroke="#2b2b2b" stroke-width="0.45"/>
<circle cx="163.0" cy="419.3" r="3.0" fill="#443A83" stroke="#2b2b2b" stroke-width="0.45"/>
<circle cx="170.0" cy="419.3" r="3.0" fill="#443A83" stroke="#2b2b2b" stroke-width="0.45"/>
<circle cx="177.0" cy="419.3" r="3.0" fill="#443A83" stroke="#2b2b2b" stroke-width="0.45"/>
<circle cx="184.0" cy="419.3" r="3.0" fill="#443A83" stroke="#2b2b2b" stroke-width="0.45"/>
<circle cx="166.5" cy="411.3" r="3.0" fill="#443A83" stroke="#2b2b2b" stroke-width="0.45"/>
<circle cx="173.5" cy="411.3" r="3.0" fill="#443A83" stroke="#2b2b2b" stroke-width="0.45"/>
<circle cx="180.5" cy="411.3" r="3.0" fill="#443A83" stroke="#2b2b2b" stroke-width="0.45"/>
<circle cx="173.5" cy="394.5" r="3.0" fill="#440154" stroke="#2b2b2b" stroke-width="0.45"/>
<line x1="141.2" y1="417.4" x2="204.9" y2="417.4" stroke="#111" stroke-width="1.3"/>
<text x="236.8" y="423.0" font-size="5.8" text-anchor="start" fill="#000" font-weight="bold">VL categories</text>
<circle cx="239.0" cy="431.8" r="2.9" fill="#440154"/>
<text x="246.5" y="434.2" font-size="5.8" text-anchor="start" fill="#111">&lt;1E+3 cp/ml</text>
<circle cx="239.0" cy="438.9" r="2.9" fill="#443A83"/>
<text x="246.5" y="441.29999999999995" font-size="5.8" text-anchor="start" fill="#111">1E+3 cp/ml &lt; 1E+4 cp/ml</text>
<circle cx="239.0" cy="446.1" r="2.9" fill="#31688E"/>
<text x="246.5" y="448.5" font-size="5.8" text-anchor="start" fill="#111">1E+4 cp/ml &lt; 1E+5 cp/ml</text>
<circle cx="239.0" cy="453.4" r="2.9" fill="#21908C"/>
<text x="246.5" y="455.79999999999995" font-size="5.8" text-anchor="start" fill="#111">1E+5 cp/ml &lt; 1E+6 cp/ml</text>
<circle cx="239.0" cy="460.7" r="2.9" fill="#35B779"/>
<text x="246.5" y="463.09999999999997" font-size="5.8" text-anchor="start" fill="#111">1E+6 cp/ml &lt; 1E+7 cp/ml</text>
<circle cx="239.0" cy="468.0" r="2.9" fill="#8FD744"/>
<text x="246.5" y="470.4" font-size="5.8" text-anchor="start" fill="#111">1E+7 cp/ml &lt; 1E+8 cp/ml</text>
<circle cx="239.0" cy="475.4" r="2.9" fill="#FDE725"/>
<text x="246.5" y="477.79999999999995" font-size="5.8" text-anchor="start" fill="#111">&gt;1E+8 cp/ml</text>
</svg>
</body></html>
